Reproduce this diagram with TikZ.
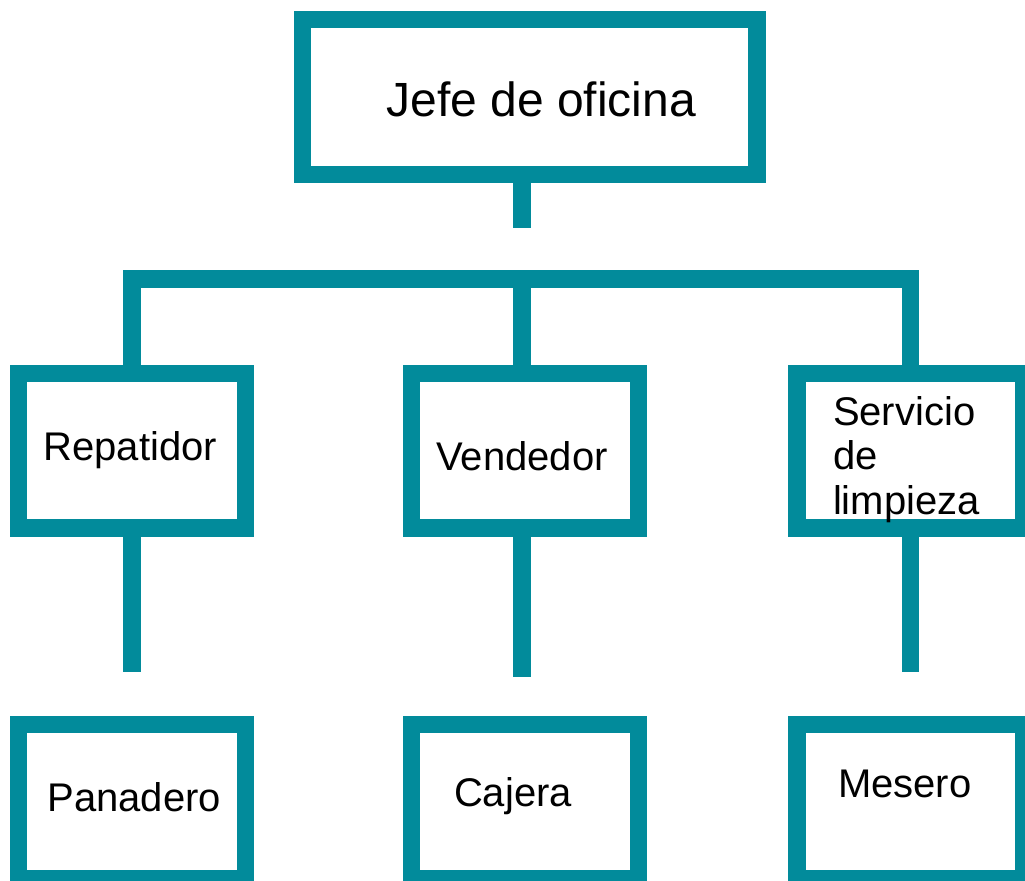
\documentclass[tikz,border=0pt]{standalone}
\usepackage{fontspec}
\setmainfont{Liberation Sans}[Ligatures=NoCommon]
\definecolor{teal1}{RGB}{2,139,155}
\begin{document}
\begin{tikzpicture}[x=0.75pt,y=-0.75pt,
  box/.style={draw=teal1,line width=13.1pt,fill=white,rectangle,inner sep=0pt,outer sep=0pt,
    minimum width=#1,minimum height=115.9pt},
  box/.default=170.3pt,
  link/.style={draw=teal1,line width=13.1pt,line cap=butt,line join=miter},
  lbl/.style={anchor=base west,inner sep=0pt,outer sep=0pt,font=\fontsize{30pt}{33pt}\selectfont},
  big/.style={anchor=base west,inner sep=0pt,outer sep=0pt,font=\fontsize{36pt}{40pt}\selectfont}]
\useasboundingbox (0,0) rectangle (1025,881);
\clip (0,0) rectangle (1025,881);
% boxes
\node[box=341pt] (jefe) at (529.65,97) {};
\node[box] (rep) at (131.85,450.5) {};
\node[box] (vend) at (524.85,450.5) {};
\node[box] (serv) at (910.5,450.5) {};
\node[box] (pan) at (131.85,801.5) {};
\node[box] (caj) at (524.85,801.5) {};
\node[box] (mes) at (910.5,801.5) {};
% connector coordinates
\coordinate (bar) at (522,279);
\coordinate (stubtop) at (522,227.7);
\coordinate (stubrep) at (132,671.7);
\coordinate (stubvend) at (522,677);
\coordinate (stubserv) at (910.3,671.7);
% connectors
\draw[link] (jefe.south -| bar) -- (stubtop);
\draw[link] (rep.north -| stubrep) |- (bar) -| (serv.north);
\draw[link] (bar) -- (vend.north -| bar);
\draw[link] (rep.south -| stubrep) -- (stubrep);
\draw[link] (vend.south -| stubvend) -- (stubvend);
\draw[link] (serv.south -| stubserv) -- (stubserv);
% texts
\node[big] (tjefe) at (386.5,116.7) {Jefe de oficina};
\node[lbl] (trep) at (43.5,460.7) {Repatidor};
\node[lbl] (tvend) at (436.5,470) {Vendedor};
\node[lbl] (tserv1) at (833,425.7) {Servicio};
\node[lbl] (tserv2) at (833,469.3) {de};
\node[lbl] (tserv3) at (833,514.3) {limpieza};
\node[lbl] (tpan) at (47.5,811) {Panadero};
\node[lbl] (tcaj) at (454,806.7) {Cajera};
\node[lbl] (tmes) at (838,797.3) {Mesero};
\end{tikzpicture}
\end{document}
